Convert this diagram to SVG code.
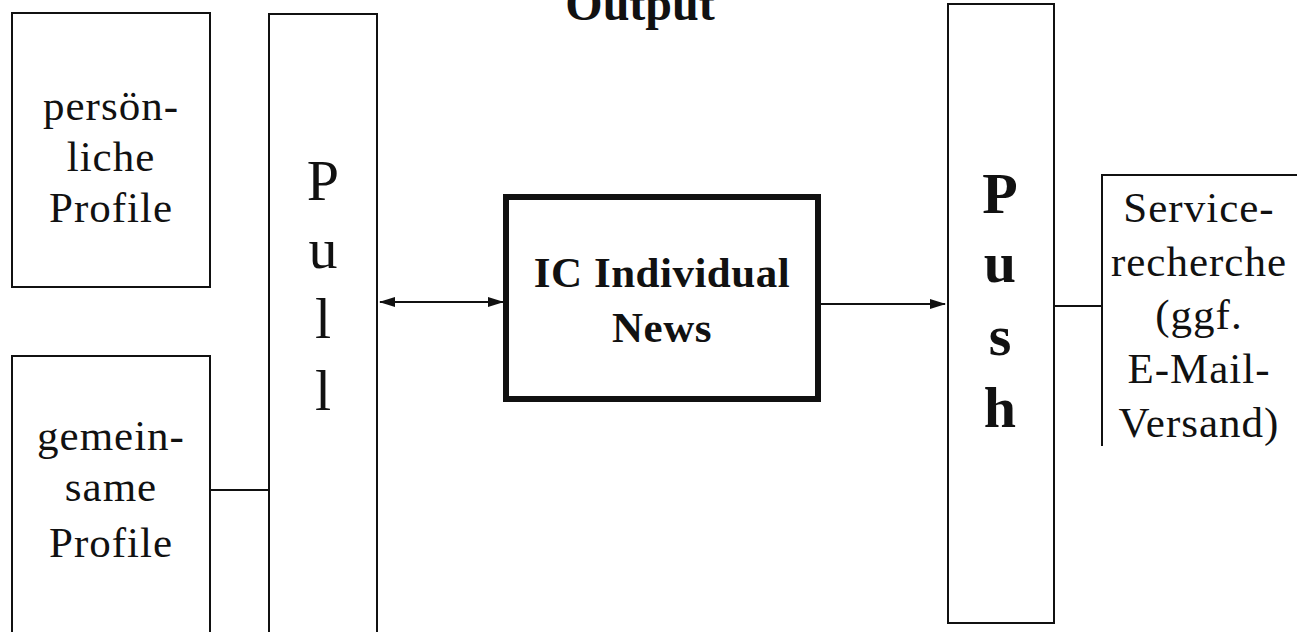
<svg xmlns="http://www.w3.org/2000/svg" width="1302" height="632" viewBox="0 0 1302 632">
<style>
.box{fill:#fff;stroke:#111;stroke-width:2}
.thick{fill:#fff;stroke:#111;stroke-width:6}
.t{font-family:"Liberation Serif","Times New Roman",serif;fill:#111;text-anchor:middle}
.lbl{font-size:43px;letter-spacing:1px}
.big{font-size:58px}
.bold{font-weight:bold}
.line{stroke:#111;stroke-width:2;fill:none}
</style>
<defs>
<marker id="ah" markerWidth="16" markerHeight="12" refX="15" refY="6" orient="auto-start-reverse" markerUnits="userSpaceOnUse">
<path d="M0,1 L16,6 L0,11 Z" fill="#111"/>
</marker>
</defs>
<rect width="1302" height="632" fill="#fff"/>
<g id="title"><text class="t bold" x="640" y="20" font-size="48">Output</text></g>
<g id="persoenliche">
<rect class="box" x="12" y="13" width="198" height="274"/>
<text class="t lbl" x="111" y="120">persön-</text>
<text class="t lbl" x="111" y="171">liche</text>
<text class="t lbl" x="111" y="222">Profile</text>
</g>
<g id="gemeinsame">
<rect class="box" x="12" y="356" width="198" height="280"/>
<text class="t lbl" x="111" y="450">gemein-</text>
<text class="t lbl" x="111" y="501">same</text>
<text class="t lbl" x="111" y="557">Profile</text>
</g>
<g id="pull">
<rect class="box" x="269" y="14" width="108" height="622"/>
<text class="t big" x="323" y="200">P</text>
<text class="t big" x="323" y="268">u</text>
<text class="t big" x="323" y="338">l</text>
<text class="t big" x="323" y="410">l</text>
</g>
<g id="ic">
<rect class="thick" x="506" y="197" width="312" height="202"/>
<text class="t lbl bold" x="662" y="287" style="letter-spacing:0.5px">IC Individual</text>
<text class="t lbl bold" x="662" y="342" style="letter-spacing:0.5px">News</text>
</g>
<g id="push">
<rect class="box" x="948" y="4" width="106" height="619"/>
<text class="t big bold" x="1000" y="213">P</text>
<text class="t big bold" x="1000" y="282">u</text>
<text class="t big bold" x="1000" y="355">s</text>
<text class="t big bold" x="1000" y="427">h</text>
</g>
<g id="service">
<path class="line" d="M1102,446 V175 H1297"/>
<text class="t lbl" x="1199" y="222">Service-</text>
<text class="t lbl" x="1199" y="276">recherche</text>
<text class="t lbl" x="1199" y="329">(ggf.</text>
<text class="t lbl" x="1199" y="383">E-Mail-</text>
<text class="t lbl" x="1199" y="437">Versand)</text>
</g>
<g id="connectors">
<line class="line" x1="210" y1="490" x2="269" y2="490"/>
<line class="line" x1="380" y1="302" x2="503" y2="302" marker-start="url(#ah)" marker-end="url(#ah)"/>
<line class="line" x1="821" y1="304" x2="945" y2="304" marker-end="url(#ah)"/>
<line class="line" x1="1054" y1="306" x2="1102" y2="306"/>
</g>
</svg>
